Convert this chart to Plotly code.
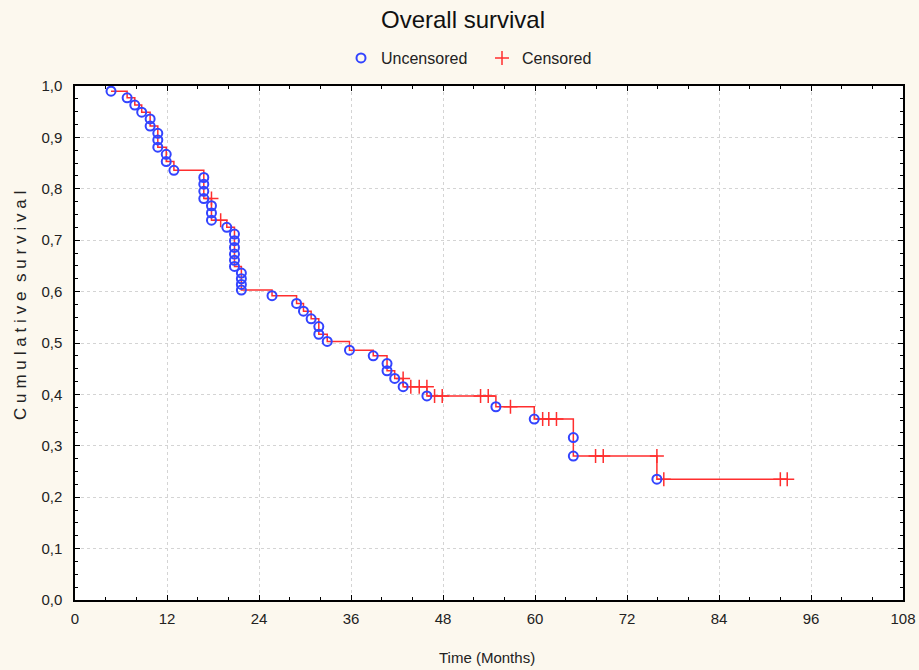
import plotly.graph_objects as go

# Uncensored events (time in months, cumulative survival)
unc_time = [4.7, 6.8, 7.8, 8.7, 9.8, 9.8, 10.8, 10.8, 10.8, 11.9, 11.9, 12.9,
            16.8, 16.8, 16.8, 16.8, 17.8, 17.8, 17.8, 19.8,
            20.8, 20.8, 20.8, 20.8, 20.8, 20.8, 21.7, 21.7, 21.7, 21.7,
            25.7, 28.9, 29.8, 30.8, 31.8, 31.8, 32.9, 35.8, 38.9,
            40.7, 40.7, 41.7, 42.8, 45.9, 54.9, 59.9, 65.0, 65.0, 75.9]
unc_surv = [0.990, 0.977, 0.963, 0.949, 0.936, 0.922, 0.908, 0.895, 0.881, 0.867, 0.853, 0.836,
            0.822, 0.809, 0.795, 0.781, 0.767, 0.753, 0.739, 0.725,
            0.712, 0.699, 0.686, 0.673, 0.661, 0.649, 0.636, 0.625, 0.614, 0.603,
            0.592, 0.577, 0.562, 0.547, 0.532, 0.517, 0.503, 0.486, 0.475,
            0.460, 0.446, 0.431, 0.415, 0.397, 0.376, 0.352, 0.316, 0.280, 0.235]

# Censored observations
cen_time = [17.8, 19.0, 42.8, 43.8, 44.9, 45.9, 46.9, 47.9, 52.9, 53.9, 56.8,
            61.0, 61.8, 62.8, 67.9, 68.9, 75.9, 76.8, 92.0, 92.9]
cen_surv = [0.781, 0.739, 0.431, 0.415, 0.415, 0.415, 0.397, 0.397, 0.397, 0.397, 0.376,
            0.352, 0.352, 0.352, 0.280, 0.280, 0.280, 0.235, 0.235, 0.235]

x_ticks = [0, 12, 24, 36, 48, 60, 72, 84, 96, 108]
y_ticks = [0.0, 0.1, 0.2, 0.3, 0.4, 0.5, 0.6, 0.7, 0.8, 0.9, 1.0]

# Step line through all observations
pts = sorted(list(zip(unc_time, unc_surv)) + list(zip(cen_time, cen_surv)),
             key=lambda p: (p[0], -p[1]))
line_x = [p[0] for p in pts]
line_y = [p[1] for p in pts]

RED = "#FF2E2E"
BLUE = "#3344FF"
FONT = "Arial, Liberation Sans, sans-serif"
TXT = "#222222"
BG = "#FCF8EE"

fig = go.Figure()
fig.add_trace(go.Scatter(x=line_x, y=line_y, mode="lines", line_shape="hv",
                         line=dict(color=RED, width=1.5), showlegend=False,
                         hoverinfo="skip"))
fig.add_trace(go.Scatter(x=cen_time, y=cen_surv, mode="markers", name="Censored",
                         marker=dict(symbol="cross-thin-open", size=10,
                                     line=dict(color=RED, width=1.5), color=RED)))
fig.add_trace(go.Scatter(x=unc_time, y=unc_surv, mode="markers", name="Uncensored",
                         marker=dict(symbol="circle-open", size=9, color=BLUE,
                                     line=dict(color=BLUE, width=2))))

axis_common = dict(showline=True, linecolor="black", linewidth=1.5, mirror="ticks",
                   ticks="inside", ticklen=5, tickcolor="black", automargin=False,
                   showgrid=True, gridcolor="#D4D4D4", griddash="dot", gridwidth=1,
                   zeroline=False, tickfont=dict(family=FONT, size=15, color=TXT))

fig.update_xaxes(range=[0, 108], tickvals=x_ticks, ticktext=[str(v) for v in x_ticks],
                 minor=dict(dtick=4, ticks="inside", ticklen=3, tickcolor="black"),
                 ticklabelstandoff=4, **axis_common)
fig.update_yaxes(range=[0, 1], tickvals=y_ticks,
                 ticktext=[f"{v:.1f}".replace(".", ",") for v in y_ticks],
                 minor=dict(dtick=0.025, ticks="inside", ticklen=3, tickcolor="black"),
                 ticklabelstandoff=8, **axis_common)

gap = "\u2009\u200a"
ytitle = gap.join(list("Cumulative")) + " " + gap + gap.join(list("survival"))

fig.update_layout(
    width=919, height=670,
    margin=dict(l=75, r=16, t=86, b=70),
    paper_bgcolor=BG, plot_bgcolor="white",
    title=dict(text="Overall survival", x=463 / 919, xanchor="center", xref="container",
               y=1 - 20 / 670, yanchor="middle", yref="container",
               font=dict(family=FONT, size=24, color="#111")),
    legend=dict(orientation="h", x=482 / 919, xanchor="center", xref="container",
                y=1 - 58 / 670, yanchor="middle", yref="container",
                traceorder="reversed", bgcolor="rgba(0,0,0,0)",
                entrywidth=96, entrywidthmode="pixels",
                font=dict(family=FONT, size=16, color=TXT)),
    annotations=[
        dict(text=ytitle, textangle=-90, xref="paper", yref="paper",
             x=(20 - 75) / 828, y=(600 - 306) / 514, xanchor="center", yanchor="middle",
             showarrow=False, font=dict(family=FONT, size=17, color=TXT)),
        dict(text="Time (Months)", xref="paper", yref="paper",
             x=(487 - 75) / 828, y=(600 - 657) / 514, xanchor="center", yanchor="middle",
             showarrow=False, font=dict(family=FONT, size=15, color=TXT)),
    ],
)

fig.write_html("out.html", config={"displayModeBar": False},
               post_script="document.body.style.margin='0';"
                           "document.body.style.background='" + BG + "';")
